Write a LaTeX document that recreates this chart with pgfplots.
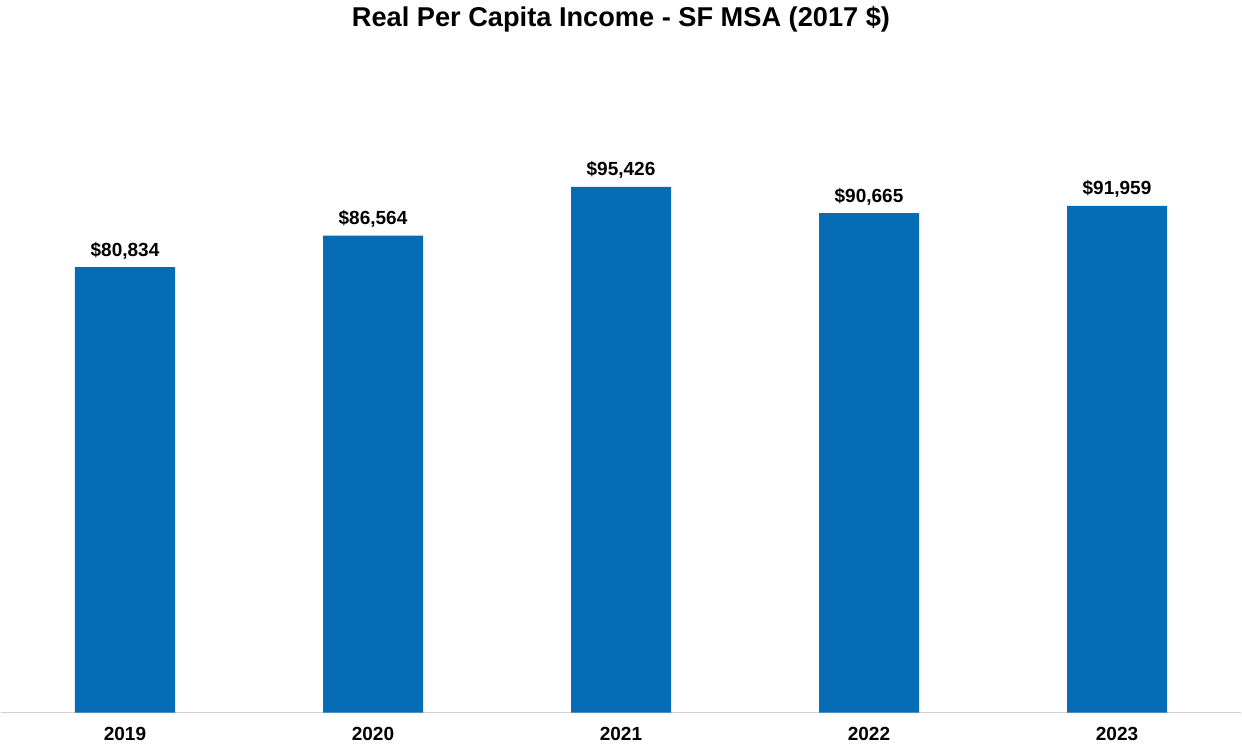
\documentclass[border=0pt]{standalone}
\usepackage{fontspec}
\setmainfont{Liberation Sans}
\usepackage{pgfplots}
\pgfplotsset{compat=1.18}
\definecolor{barblue}{HTML}{066CB5}
\begin{document}
\begin{tikzpicture}
\begin{axis}[
  scale only axis,
  width=620pt,
  height=330pt,
  ybar,
  bar width=50pt,
  xmin=-0.5, xmax=4.5,
  ymin=0, ymax=119800,
  xtick=data,
  xticklabels={2019,2020,2021,2022,2023},
  axis y line=none,
  axis x line*=bottom,
  x axis line style={draw=black!18, line width=0.6pt, -},
  major tick length=0pt,
  xticklabel style={font=\bfseries\fontsize{9.5}{11}\selectfont, yshift=-4pt},
  /pgf/number format/assume math mode=true,
  nodes near coords={\$\pgfmathprintnumber[fixed,precision=0,1000 sep={,}]{\pgfplotspointmeta}},
  every node near coord/.append style={font=\bfseries\fontsize{9.5}{11}\selectfont, black, yshift=0.5pt},
  clip=false,
]
\addplot[fill=barblue, draw=none] coordinates {
  (0,80834) (1,86564) (2,95426) (3,90665) (4,91959)
};
\end{axis}
\node[font=\bfseries\fontsize{13.6}{16}\selectfont] at ([yshift=16.5pt]current axis.north) {Real Per Capita Income - SF MSA (2017 \$)};
\path ([xshift=-0.5pt,yshift=-18pt]current axis.south west) rectangle ([xshift=0.5pt,yshift=25.5pt]current axis.north east);
\end{tikzpicture}
\end{document}
